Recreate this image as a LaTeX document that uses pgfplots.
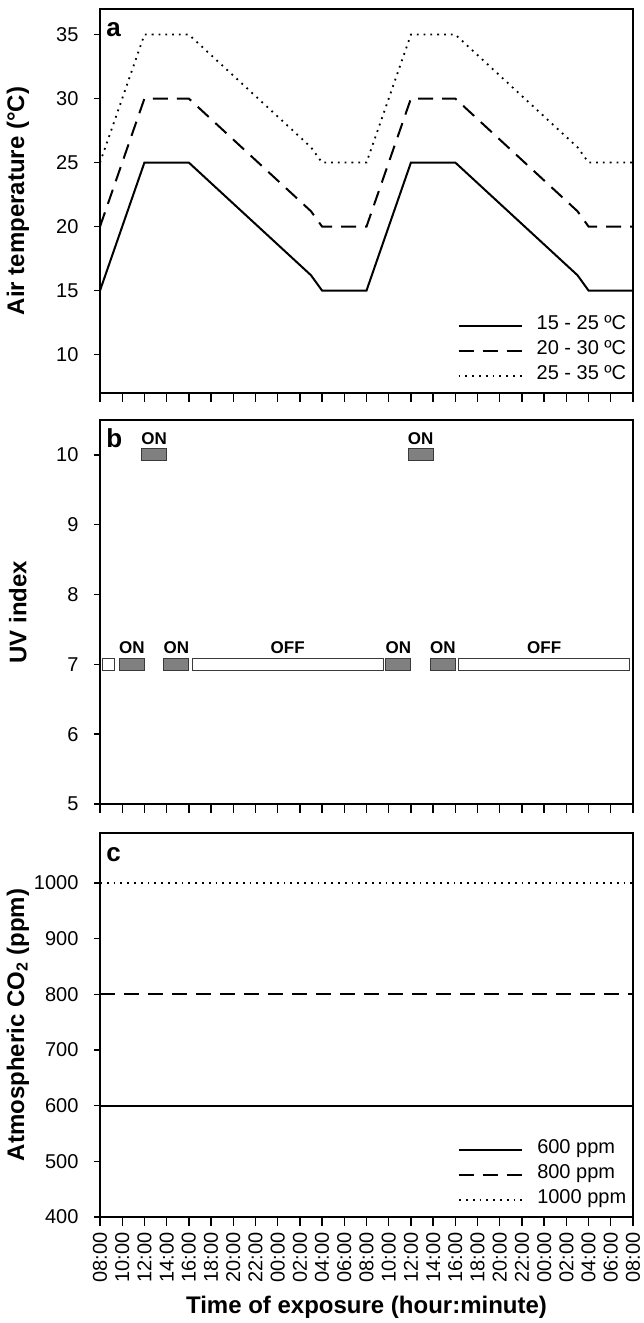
\documentclass[border=0pt]{standalone}
\usepackage{fontspec}
\setmainfont{Liberation Sans}
\usepackage{pgfplots}
\pgfplotsset{compat=1.18}
\definecolor{bargray}{HTML}{808080}
\definecolor{barline}{HTML}{3A3A3A}
\tikzset{
  onoff/.style={font=\fontsize{8.5}{10}\selectfont\bfseries, anchor=base, inner sep=0pt},
  letter/.style={anchor=base west, inner sep=0pt, font=\fontsize{13}{15}\selectfont\bfseries, xshift=3pt, yshift=-14pt},
}
\pgfplotsset{
  panel/.style={
    width=266.5pt, height=192pt, scale only axis,
    xmin=0, xmax=48, xtick={0,2,...,48},
    axis line style={line width=0.7pt},
    xtick pos=bottom, ytick pos=left, tick align=outside,
    xtick style={line width=0.7pt, black, /pgfplots/major tick length=4.5pt},
    ytick style={line width=0.7pt, black, /pgfplots/major tick length=3pt},
    tick label style={font=\fontsize{10}{12}\selectfont},
    yticklabel style={xshift=-3pt},
    /pgf/number format/assume math mode=true,
    /pgf/number format/set thousands separator={},
    every axis y label/.style={at={(axis description cs:-0.154,0.5)}, rotate=90, anchor=center, font=\fontsize{12}{14}\selectfont\bfseries},
    legend style={draw=none, fill=none, at={(rel axis cs:0.988,0.0104)}, anchor=south east, inner sep=0pt, row sep=0pt,
      nodes={inner sep=0pt, text height=8pt, text depth=4.5pt, font=\fontsize{10}{12}\selectfont},
      /tikz/every odd column/.append style={column sep=7pt}},
    legend cell align=left,
    legend image code/.code={\draw[#1] (0pt,0pt) -- (31.5pt,0pt);},
  },
  solidl/.style={black, line width=1pt},
  dashedl/.style={black, line width=1pt, dash pattern=on 7.5pt off 4.5pt},
  dottedl/.style={black, line width=0.9pt, dash pattern=on 0.9pt off 2.5pt},
  bar/.style={fill=bargray, draw=barline, line width=0.5pt},
  wbar/.style={fill=white, draw=barline, line width=0.5pt},
}
\begin{document}
\begin{tikzpicture}
% ---------- panel a ----------
\begin{axis}[panel, at={(0pt,412pt)}, anchor=south west,
  ymin=7, ymax=37, ytick={10,15,...,35}, xticklabels={},
  ylabel={Air temperature (°C)}]
\addplot[solidl] coordinates {(0,15) (4,25) (8,25) (19,16.2) (20,15) (24,15) (28,25) (32,25) (43,16.2) (44,15) (48,15)};
\addlegendentry{15 - 25 ºC}
\addplot[dashedl] coordinates {(0,20) (4,30) (8,30) (19,21.2) (20,20) (24,20) (28,30) (32,30) (43,21.2) (44,20) (48,20)};
\addlegendentry{20 - 30 ºC}
\addplot[dottedl] coordinates {(0,25) (4,35) (8,35) (19,26.2) (20,25) (24,25) (28,35) (32,35) (43,26.2) (44,25) (48,25)};
\addlegendentry{25 - 35 ºC}
\node[letter] at (rel axis cs:0,1) {a};
\end{axis}
% ---------- panel b ----------
\begin{axis}[panel, at={(0pt,206.5pt)}, anchor=south west,
  ymin=5, ymax=10.5, ytick={5,6,...,10}, xticklabels={},
  ylabel={UV index}]
\addplot[wbar] coordinates {(0.2,6.915) (1.3,6.915) (1.3,7.085) (0.2,7.085)} --cycle;
\addplot[bar] coordinates {(1.75,6.915) (4.0,6.915) (4.0,7.085) (1.75,7.085)} --cycle;
\addplot[bar] coordinates {(5.75,6.915) (8.0,6.915) (8.0,7.085) (5.75,7.085)} --cycle;
\addplot[wbar] coordinates {(8.3,6.915) (25.5,6.915) (25.5,7.085) (8.3,7.085)} --cycle;
\addplot[bar] coordinates {(25.75,6.915) (28.0,6.915) (28.0,7.085) (25.75,7.085)} --cycle;
\addplot[bar] coordinates {(29.75,6.915) (32.0,6.915) (32.0,7.085) (29.75,7.085)} --cycle;
\addplot[wbar] coordinates {(32.3,6.915) (47.7,6.915) (47.7,7.085) (32.3,7.085)} --cycle;
\addplot[bar] coordinates {(3.75,9.915) (6.0,9.915) (6.0,10.085) (3.75,10.085)} --cycle;
\addplot[bar] coordinates {(27.75,9.915) (30.0,9.915) (30.0,10.085) (27.75,10.085)} --cycle;
\node[onoff] at (axis cs:2.875,7.085) [yshift=2.4pt] {ON};
\node[onoff] at (axis cs:6.875,7.085) [yshift=2.4pt] {ON};
\node[onoff] at (axis cs:16.9,7.085) [yshift=2.4pt] {OFF};
\node[onoff] at (axis cs:26.875,7.085) [yshift=2.4pt] {ON};
\node[onoff] at (axis cs:30.875,7.085) [yshift=2.4pt] {ON};
\node[onoff] at (axis cs:40.0,7.085) [yshift=2.4pt] {OFF};
\node[onoff] at (axis cs:4.875,10.085) [yshift=2.4pt] {ON};
\node[onoff] at (axis cs:28.875,10.085) [yshift=2.4pt] {ON};
\node[letter] at (rel axis cs:0,1) {b};
\end{axis}
% ---------- panel c ----------
\begin{axis}[panel, at={(0pt,0pt)}, anchor=south west,
  ymin=400, ymax=1090, ytick={400,500,...,1000},
  xticklabels={08:00,10:00,12:00,14:00,16:00,18:00,20:00,22:00,00:00,02:00,04:00,06:00,08:00,10:00,12:00,14:00,16:00,18:00,20:00,22:00,00:00,02:00,04:00,06:00,08:00},
  xticklabel style={yshift=-3.3pt, rotate=90, anchor=east, inner sep=0pt},
  ylabel={Atmospheric CO\textsubscript{2} (ppm)},
  xlabel={Time of exposure (hour:minute)},
  every axis x label/.style={at={(axis description cs:0.5,-0.234)}, anchor=center, font=\fontsize{12}{14}\selectfont\bfseries}]
\addplot[solidl] coordinates {(0,600) (48,600)};
\addlegendentry{600 ppm}
\addplot[dashedl] coordinates {(0,800) (48,800)};
\addlegendentry{800 ppm}
\addplot[dottedl] coordinates {(0,1000) (48,1000)};
\addlegendentry{1000 ppm}
\node[letter] at (rel axis cs:0,1) {c};
\end{axis}
\pgfresetboundingbox
\path (-50pt,-53pt) rectangle (271.5pt,608.5pt);
\end{tikzpicture}
\end{document}
